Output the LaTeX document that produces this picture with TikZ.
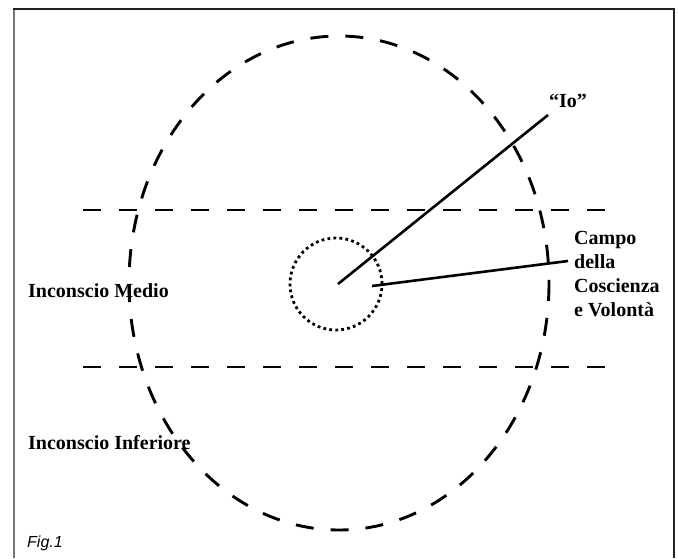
\documentclass[tikz,border=0pt]{standalone}
\usepackage{fontspec}
\setmainfont{Liberation Serif}
\setsansfont{Liberation Sans}
\usepackage{tikz}
\usetikzlibrary{positioning,calc}
\definecolor{psyink}{HTML}{000000}
\definecolor{psyframe}{HTML}{222222}
\definecolor{psyframeL}{HTML}{777777}
\tikzset{
  ring/.style  = {draw=psyink, line width=2.9pt, dash pattern=on 18pt off 17pt},
  band/.style  = {draw=psyink, line width=2.9pt, dash pattern=on 18pt off 18pt},
  core/.style  = {draw=psyink, line width=2.8pt, dash pattern=on 2.8pt off 3.2pt},
  ray/.style   = {draw=psyink, line width=2.6pt},
  lbl/.style   = {font=\fontsize{20}{24}\selectfont\bfseries, inner sep=0pt, align=left},
  figlbl/.style = {font=\fontsize{16}{18}\selectfont\sffamily\itshape, inner sep=0pt},
}
\begin{document}
\begin{tikzpicture}[x=1pt, y=-1pt]
\useasboundingbox (0,0) rectangle (678,558);
% frame, open at the bottom
\draw[psyframeL, line width=2pt] (14,558) -- (14,9);
\draw[psyframe, line width=1.2pt] (13,9) -- (674,9) -- (674,558);
% levels
\draw[ring] (339,283) ellipse [x radius=210, y radius=247];
\coordinate (bandAw) at (83,210);
\coordinate (bandAe) at (606,210);
\coordinate (bandBw) at (83,367);
\coordinate (bandBe) at (606,367);
\draw[band] (bandAw) -- (bandAe);
\draw[band] (bandBw) -- (bandBe);
\node[circle, core, minimum size=92pt, inner sep=0pt] (io core) at (336,284) {};
% labels
\node[lbl, anchor=base west] (io) at (549,107) {“Io”};
\node[lbl, anchor=base west] (campo) at (574,316) {Campo\\della\\Coscienza\\e Volontà};
\node[lbl, anchor=base west] (medio) at (28,297) {Inconscio Medio};
\node[lbl, anchor=base west] (inferiore) at (28,449) {Inconscio Inferiore};
\node[figlbl, anchor=base west] (fig) at (27,547) {Fig.1};
% rays
\coordinate (ctr) at (338,284);
\coordinate (ioEnd) at (548,115);
\coordinate (fieldStart) at (372,286);
\coordinate (fieldEnd) at (568,261);
\draw[ray] (ctr) -- (ioEnd);
\draw[ray] (fieldStart) -- (fieldEnd);
\end{tikzpicture}
\end{document}
